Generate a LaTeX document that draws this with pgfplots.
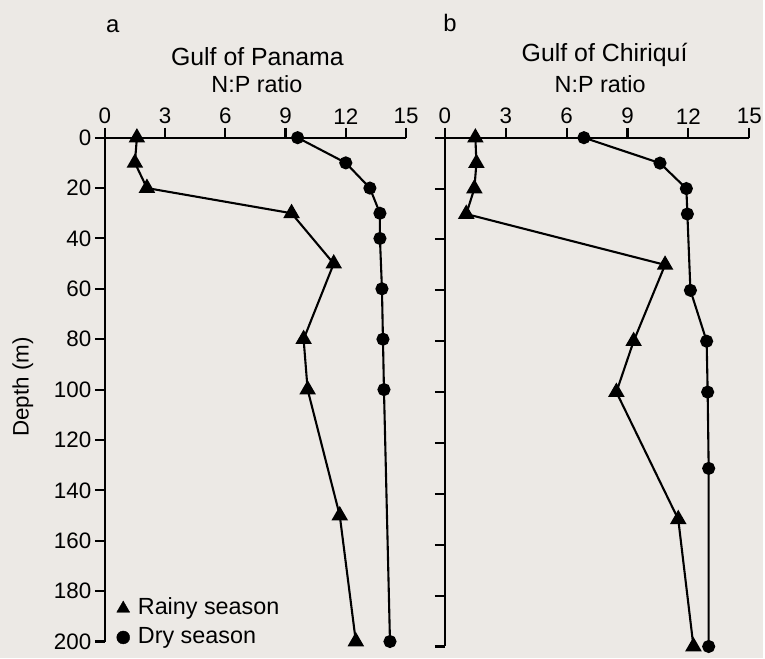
\documentclass[border=0pt]{standalone}
\usepackage{pgfplots}
\pgfplotsset{compat=1.18}
\usepackage{fontspec}
\setmainfont{Liberation Sans}
\definecolor{paper}{RGB}{236,233,229}
\begin{document}
\begin{tikzpicture}
\fill[paper] (0bp,0bp) rectangle (765bp,660bp);
\pgfplotsset{
 np/.style={
  scale only axis, axis x line=top, axis y line=left,
  axis line style={-, line width=2.1bp, black},
  xmin=0,xmax=15, ymin=0,ymax=200, y dir=reverse,
  xtick={0,3,...,15}, ytick={0,20,...,200},
  tick align=outside, major tick length=10bp,
  tick style={line width=2.1bp, black},
  tick label style={font=\fontsize{22.5}{26}\selectfont},
  /pgf/number format/assume math mode=true,
  clip=false,
 },
 rainy/.style={black, line width=2.1bp, mark=triangle*, mark size=7.5bp, mark options={solid}},
 dry/.style={black, line width=2.1bp, mark=*, mark size=5.5bp, mark options={solid}},
 mylegimg/.style={legend image code/.code={\path (0bp,0bp) (22bp,0bp); \draw[mark repeat=2,mark phase=2,##1] plot coordinates {(0bp,0bp)(10bp,0bp)(22bp,0bp)};}},
}
% Panel a
\begin{axis}[np, at={(105bp,17bp)}, anchor=south west, width=302bp, height=505bp,
  legend style={at={(0.017,-0.025)}, anchor=south west, draw=none, fill=none,
    font=\fontsize{23.5}{28}\selectfont, row sep=0pt,
    nodes={inner sep=2.5bp, text height=18bp, text depth=6bp}},
  legend cell align=left,
]
\addlegendimage{only marks, mark=triangle*, mark size=7.5bp, black, mylegimg}
\addlegendentry{Rainy season}
\addlegendimage{only marks, mark=*, mark size=6.5bp, black, mylegimg}
\addlegendentry{Dry season}
\addplot[rainy, forget plot] coordinates {(1.6,0)(1.5,10)(2.1,20)(9.3,30)(11.4,50)(9.9,80)(10.1,100)(11.7,150)(12.5,200)};
\addplot[dry, forget plot] coordinates {(9.6,0)(12.0,10)(13.2,20)(13.7,30)(13.7,40)(13.8,60)(13.85,80)(13.9,100)(14.2,200)};
\end{axis}
% Panel b
\begin{axis}[np, at={(446bp,12bp)}, anchor=south west, width=305bp, height=510bp,
  yticklabels={}]
\addplot[rainy] coordinates {(1.5,0)(1.55,10)(1.45,20)(1.05,30)(10.85,50)(9.3,80)(8.45,100)(11.5,150)(12.25,200)};
\addplot[dry] coordinates {(6.85,0)(10.6,10)(11.9,20)(11.95,30)(12.1,60)(12.9,80)(12.95,100)(13.0,130)(13.0,200)};
\end{axis}
% Texts
\node[anchor=base, font=\fontsize{24}{28}\selectfont] at (113bp,627bp) {a};
\node[anchor=base, font=\fontsize{24}{28}\selectfont] at (451bp,628bp) {b};
\node[anchor=base, font=\fontsize{25}{30}\selectfont] at (258bp,594bp) {Gulf of Panama};
\node[anchor=base, font=\fontsize{25}{30}\selectfont] at (606bp,598bp) {Gulf of Chiriquí};
\node[anchor=base, font=\fontsize{23.5}{28}\selectfont] at (257.5bp,567bp) {N:P ratio};
\node[anchor=base, font=\fontsize{23.5}{28}\selectfont] at (601.5bp,567bp) {N:P ratio};
\node[rotate=90, font=\fontsize{22.5}{26}\selectfont] at (23bp,272bp) {Depth (m)};
\end{tikzpicture}
\end{document}
